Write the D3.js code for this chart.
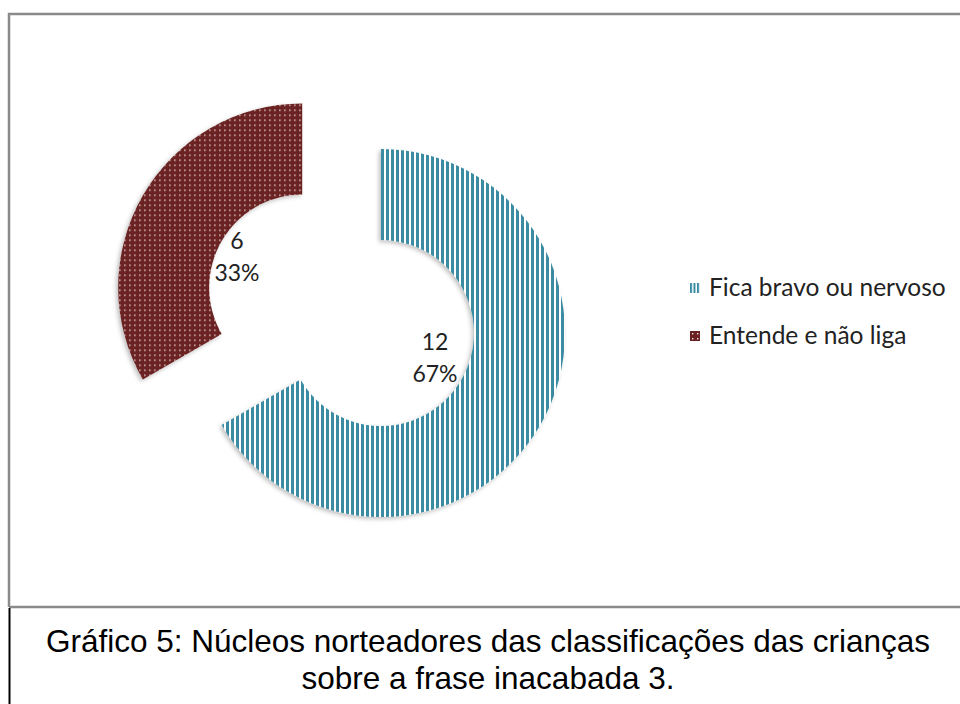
<!DOCTYPE html>
<html>
<head>
<meta charset="utf-8">
<script src="https://cdn.jsdelivr.net/npm/d3@7"></script>
<style>
  body { margin: 0; background: #fff; }
  svg { display: block; }
</style>
</head>
<body>
<div id="chart"></div>
<script>
// data
const categories = ["Fica bravo ou nervoso", "Entende e não liga"];
const values = [12, 6];
const captionLines = [
  "Gráfico 5: Núcleos norteadores das classificações das crianças",
  "sobre a frase inacabada 3."
];

const W = 960, H = 704;
const svg = d3.select("#chart").append("svg")
    .attr("width", W)
    .attr("height", H);

const defs = svg.append("defs");

// vertical stripes for first slice
const stripes = defs.append("pattern")
    .attr("id", "stripes")
    .attr("patternUnits", "userSpaceOnUse")
    .attr("width", 5).attr("height", 5);
stripes.append("rect").attr("width", 5).attr("height", 5).attr("fill", "#fff");
stripes.append("rect").attr("width", 3).attr("height", 5).attr("fill", "#3a8ca2");

// smaller stripes for the legend key
const stripesKey = defs.append("pattern")
    .attr("id", "stripesKey")
    .attr("patternUnits", "userSpaceOnUse")
    .attr("width", 3.5).attr("height", 5);
stripesKey.append("rect").attr("width", 3.5).attr("height", 5).attr("fill", "#fff");
stripesKey.append("rect").attr("width", 2).attr("height", 5).attr("fill", "#3a8ca2");

// white dots on dark red for second slice
const dots = defs.append("pattern")
    .attr("id", "dots")
    .attr("patternUnits", "userSpaceOnUse")
    .attr("width", 5).attr("height", 5);
dots.append("rect").attr("width", 5).attr("height", 5).attr("fill", "#6b2121");
dots.append("rect").attr("x", 2).attr("y", 2).attr("width", 1.4).attr("height", 1.4).attr("fill", "#f2e4e4");

const shadow = defs.append("filter").attr("id", "shadow")
    .attr("x", "-10%").attr("y", "-10%").attr("width", "130%").attr("height", "130%");
shadow.append("feDropShadow")
    .attr("dx", -2).attr("dy", 2).attr("stdDeviation", 2)
    .attr("flood-color", "#000").attr("flood-opacity", 0.25);

const fills = ["url(#stripes)", "url(#dots)"];
const keyFills = ["url(#stripesKey)", "url(#dots)"];

// chart frame
svg.append("path")
    .attr("d", `M9,607 V14 H${W + 5}`)
    .attr("fill", "none")
    .attr("stroke", "#8a8a8a")
    .attr("stroke-width", 2.5);
svg.append("line")
    .attr("x1", 9).attr("x2", W + 5)
    .attr("y1", 607).attr("y2", 607)
    .attr("stroke", "#8a8a8a")
    .attr("stroke-width", 2.5);
svg.append("line")
    .attr("x1", 9.5).attr("x2", 9.5)
    .attr("y1", 608).attr("y2", H)
    .attr("stroke", "#000")
    .attr("stroke-width", 2);

// donut
const cx = 381, cy = 333;
const outerR = 184, innerR = 93;
const explode = [0, 91];

const pie = d3.pie().sort(null).startAngle(0).endAngle(2 * Math.PI);
const arcs = pie(values);
const arc = d3.arc().innerRadius(innerR).outerRadius(outerR);
const total = d3.sum(values);

const g = svg.append("g")
    .attr("transform", `translate(${cx}, ${cy})`);

const slices = g.selectAll("g.slice")
    .data(arcs)
    .join("g")
      .attr("class", "slice")
      .attr("transform", (d, i) => {
          const a = (d.startAngle + d.endAngle) / 2;
          return `translate(${Math.sin(a) * explode[i]}, ${-Math.cos(a) * explode[i]})`;
      });

slices.append("path")
    .attr("d", arc)
    .attr("fill", (d, i) => fills[i])
    .attr("filter", "url(#shadow)");

// data labels
const labelPos = [[54, 17], [-144, -84]];
slices.each(function(d, i) {
    const a = (d.startAngle + d.endAngle) / 2;
    const t = d3.select(this).append("text")
        .attr("text-anchor", "middle")
        .attr("font-family", "Lato, 'Open Sans', sans-serif")
        .attr("font-size", 23)
        .attr("fill", "#222");
    const ox = -Math.sin(a) * explode[i], oy = Math.cos(a) * explode[i];
    t.append("tspan")
        .attr("x", labelPos[i][0] + ox)
        .attr("y", labelPos[i][1] + oy)
        .text(d.data);
    t.append("tspan")
        .attr("x", labelPos[i][0] + ox)
        .attr("dy", 32)
        .text(Math.round(d.data / total * 100) + "%");
});

// legend
const legend = svg.append("g")
    .attr("transform", "translate(690, 288)");
const items = legend.selectAll("g")
    .data(categories)
    .join("g")
      .attr("transform", (d, i) => `translate(0, ${i * 48})`);
items.append("rect")
    .attr("x", 0).attr("y", -5)
    .attr("width", 10).attr("height", 10)
    .attr("fill", (d, i) => keyFills[i]);
items.append("text")
    .attr("x", 19)
    .attr("y", 8)
    .attr("font-family", "Lato, 'Open Sans', sans-serif")
    .attr("font-size", 24.5)
    .attr("fill", "#222")
    .text(d => d);

// caption
svg.append("g")
    .selectAll("text")
    .data(captionLines)
    .join("text")
      .attr("x", 488)
      .attr("y", (d, i) => 652 + i * 37)
      .attr("text-anchor", "middle")
      .attr("font-family", "'Liberation Sans', Arial, sans-serif")
      .attr("font-size", 31.5)
      .attr("fill", "#000")
      .text(d => d);
</script>
</body>
</html>
